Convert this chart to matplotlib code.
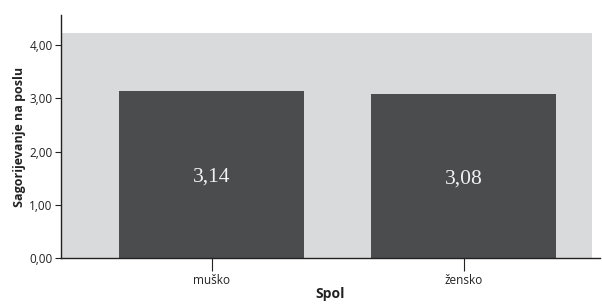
import matplotlib.pyplot as plt
from matplotlib.patches import Rectangle

categories = ['muško', 'žensko']
values = [3.14, 3.08]
value_labels = ['3,14', '3,08']
yticks = [0, 1, 2, 3, 4]
ytick_labels = ['0,00', '1,00', '2,00', '3,00', '4,00']

plt.rcParams['font.family'] = ['Open Sans', 'DejaVu Sans']

fig = plt.figure(figsize=(6.02, 3.05), dpi=100)
ax = fig.add_axes([0.1013, 0.1525, 0.8954, 0.7983])

# grey plot area
ax.add_patch(Rectangle((-0.597, 0), 2.107, 4.23, facecolor='#d9dadb', edgecolor='none', zorder=0))

x = range(len(categories))
ax.bar(x, values, width=0.734, color='#4b4c4e', zorder=2)
for xi, v, lab in zip(x, values, value_labels):
    ax.text(xi, v / 2 - 0.05, lab, ha='center', va='center', color='#f2f2f2',
            fontsize=15.5, family='Liberation Serif', zorder=3)

ax.set_xlim(-0.597, 1.54)
ax.set_ylim(0, 4.56)
ax.set_xticks(list(x))
ax.set_xticklabels(categories)
ax.set_yticks(yticks)
ax.set_yticklabels(ytick_labels)

ax.spines['top'].set_visible(False)
ax.spines['right'].set_visible(False)
for s in ['left', 'bottom']:
    ax.spines[s].set_color('#222222')
    ax.spines[s].set_linewidth(1)

ax.tick_params(axis='y', length=4, width=0.8, color='#222222', labelsize=8.5, pad=2, labelcolor='#222222')
ax.tick_params(axis='x', length=9, width=0.8, color='#222222', labelsize=8.5, pad=2, labelcolor='#222222')

ax.set_ylabel('Sagorijevanje na poslu', fontsize=9, fontweight='bold', labelpad=2, color='#222222')
ax.set_xlabel('Spol', fontsize=10, fontweight='bold', labelpad=0, color='#222222')

fig.savefig('out.png', dpi=100)
